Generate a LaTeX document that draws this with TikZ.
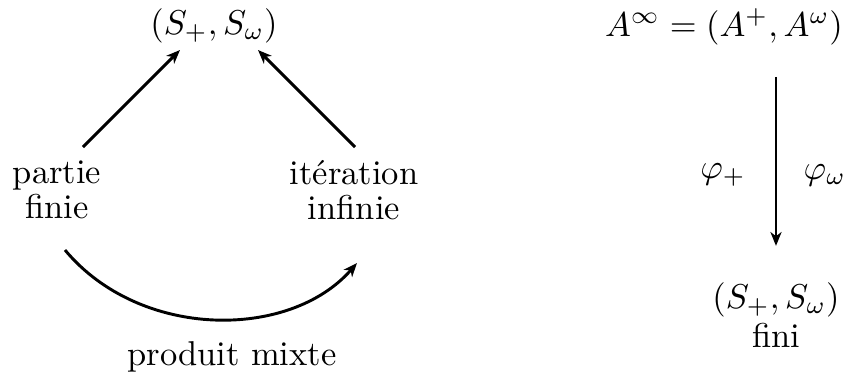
\documentclass[tikz,border=0pt]{standalone}
\usetikzlibrary{arrows.meta}
\begin{document}
\begin{tikzpicture}[x=0.29pt,y=-0.29pt,
  lbl/.style={inner sep=0pt, align=center},
  arr/.style={-{Stealth[length=4pt,width=3.2pt,inset=1.2pt]}, line width=0.85pt}]
\useasboundingbox (0,0) rectangle (847,380);
% left diagram
\node[lbl] (top) at (214,26) {$(S_+,S_\omega)$};
\node[lbl] (pf) at (57,190) {partie\\[-1.9pt]finie};
\node[lbl] (it) at (354,190) {itération\\[-1.9pt]infinie};
\node[lbl] (pm) at (232,357) {produit mixte};
\draw[arr] ([shift={(26,-43)}]pf.center) -- ([shift={(-34,24)}]top.center);
\draw[arr] ([shift={(1,-43)}]it.center) -- ([shift={(44,24)}]top.center);
\draw[arr] ([shift={(8,60)}]pf.center) .. controls +(75,90) and +(-67,77) .. ([shift={(3,73)}]it.center);
% right diagram
\node[lbl] (A) at (724,27) {$A^\infty=(A^+,A^\omega)$};
\node[lbl] (S) at (776,300) {$(S_+,S_\omega)$};
\node[lbl] (fini) at (776,335) {fini};
\node[lbl] (pp) at (723,175) {$\varphi_+$};
\node[lbl, anchor=west] (pw) at (803,175) {$\varphi_\omega$};
\draw[arr, shorten <=9pt, shorten >=10.5pt] (A.south -| S.north) -- (S.north);
\end{tikzpicture}
\end{document}
